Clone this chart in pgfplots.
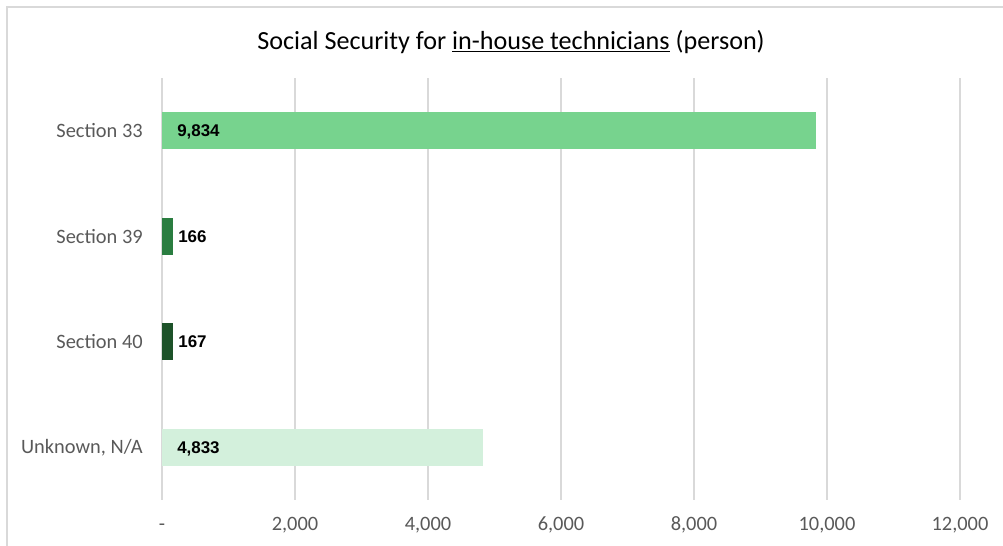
\documentclass[border=0pt]{standalone}
\usepackage{pgfplots}
\pgfplotsset{compat=1.18}
\usepackage{fontspec}
\setmainfont{Carlito}
\newfontfamily\arial{Liberation Sans}
\definecolor{c33}{HTML}{77D38E}
\definecolor{c39}{HTML}{2A7D40}
\definecolor{c40}{HTML}{1D5229}
\definecolor{cun}{HTML}{D3F0DC}
\definecolor{txt}{HTML}{595959}
\definecolor{gridc}{HTML}{D9D9D9}
\begin{document}
\begin{tikzpicture}
\path[use as bounding box] (0pt,0pt) rectangle (752.25pt,409.5pt);
\draw[gridc, line width=1.5pt] (5.25pt,-5pt) -- (5.25pt,403.9pt) -- (760pt,403.9pt);
\node[font=\fontsize{19.6}{23}\selectfont, text=black] at (383.25pt,378pt) {Social Security for \underline{in-house technicians} (person)};
\begin{axis}[
  at={(121.5pt,34.5pt)}, anchor=south west,
  scale only axis, width=598.5pt, height=316.5pt,
  xmin=0, xmax=12000, ymin=-0.5, ymax=3.5, y dir=reverse,
  ytick={0,1,2,3},
  yticklabels={Section 33, Section 39, Section 40, {Unknown, N/A}},
  xtick={0,2000,4000,6000,8000,10000,12000},
  xticklabels={{-},{2,000},{4,000},{6,000},{8,000},{10,000},{12,000}},
  axis line style={draw=none},
  major tick length=0pt,
  xmajorgrids,
  grid style={gridc, line width=1.5pt},
  ticklabel style={font=\fontsize{15.3}{18}\selectfont, text=txt},
  yticklabel style={inner sep=0pt, xshift=-14.25pt},
  xticklabel style={inner sep=0pt, text height=9.7pt, text depth=0pt, yshift=-13pt},
  clip=false,
  /pgf/number format/1000 sep={,},
  /pgf/number format/assume math mode=true,
]
\addplot[xbar, bar shift=0pt, bar width=27.75pt, draw=none, fill=c33] coordinates {(9834,0)};
\addplot[xbar, bar shift=0pt, bar width=27.75pt, draw=none, fill=c39] coordinates {(166,1)};
\addplot[xbar, bar shift=0pt, bar width=27.75pt, draw=none, fill=c40] coordinates {(167,2)};
\addplot[xbar, bar shift=0pt, bar width=27.75pt, draw=none, fill=cun] coordinates {(4833,3)};
\addplot[draw=none, mark=none, nodes near coords, point meta=explicit,
  every node near coord/.append style={anchor=base west, inner sep=0pt, xshift=11.25pt, yshift=-4.55pt, font=\arial\bfseries\fontsize{12.7}{14}\selectfont, text=black}]
  coordinates {(0,0) [9834] (0,3) [4833]};
\addplot[draw=none, mark=none, nodes near coords, point meta=explicit,
  every node near coord/.append style={anchor=base west, inner sep=0pt, xshift=3.75pt, yshift=-4.55pt, font=\arial\bfseries\fontsize{12.7}{14}\selectfont, text=black}]
  coordinates {(166,1) [166] (167,2) [167]};
\end{axis}
\end{tikzpicture}
\end{document}
